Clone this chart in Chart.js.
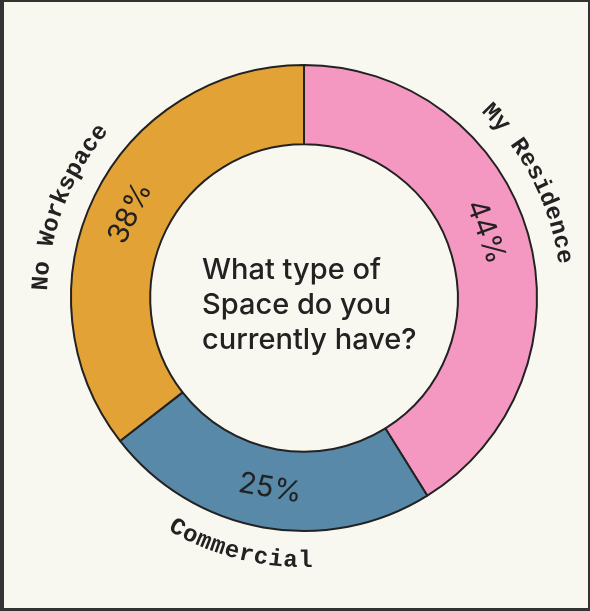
<!DOCTYPE html>
<html>
<head>
<meta charset="utf-8">
<script src="https://cdn.jsdelivr.net/npm/chart.js@4"></script>
<style>
  html, body { margin: 0; padding: 0; background: #f8f7f0; }
  .frame {
    width: 584px; height: 606px;
    border-style: solid; border-color: #333;
    border-width: 2px 2px 3px 4px;
    background: #f8f7f0;
  }
</style>
</head>
<body>
<div class="frame"><canvas id="myChart" width="584" height="606"></canvas></div>
<script>
// data (shares don't add to 100 in the original either)
const labels = ['My Residence', 'Commercial', 'No Workspace']
const values = [44, 25, 38]
const question = ['What type of', 'Space do you', 'currently have?']

// small nudges so the text sits where the original put it (degrees)
const labelShift = [-11, 4.2, -5]
const pctShift = [-4, 0, 0]

const ringLabels = {
  id: 'ringLabels',
  afterDatasetsDraw(chart) {
    const ctx = chart.ctx
    const meta = chart.getDatasetMeta(0)
    meta.data.forEach((arc, i) => {
      const p = arc.getProps(['x', 'y', 'startAngle', 'endAngle', 'innerRadius', 'outerRadius'], true)
      const mid = (p.startAngle + p.endAngle) / 2
      const fromTop = mid + Math.PI / 2   // 0 at 12 o'clock, clockwise
      const bottomHalf = fromTop > Math.PI / 2 && fromTop < Math.PI * 1.5

      // percentage in the middle of the ring
      const r = (p.innerRadius + p.outerRadius) / 2
      const pm = mid + pctShift[i] * Math.PI / 180
      ctx.save()
      ctx.translate(p.x + r * Math.cos(pm), p.y + r * Math.sin(pm))
      ctx.rotate(bottomHalf ? pm + Math.PI / 2 - Math.PI : pm + Math.PI / 2)
      ctx.font = '400 29px Inter'
      ctx.fillStyle = '#222'
      ctx.textAlign = 'center'
      ctx.textBaseline = 'middle'
      ctx.fillText(values[i] + '%', 0, 0)
      ctx.restore()

      // name bent round the outside
      const R = p.outerRadius + 30
      const text = labels[i]
      const spacing = 0.5
      ctx.save()
      ctx.font = 'bold 24px "Liberation Mono"'
      ctx.fillStyle = '#222'
      ctx.textAlign = 'center'
      ctx.textBaseline = 'middle'
      const widths = [...text].map(c => ctx.measureText(c).width + spacing)
      const total = widths.reduce((a, b) => a + b, 0) - spacing
      const span = total / R
      const centre = mid + labelShift[i] * Math.PI / 180
      let acc = 0
      ;[...text].forEach((c, k) => {
        const off = (acc + (widths[k] - spacing) / 2) / R
        const th = bottomHalf ? centre + span / 2 - off : centre - span / 2 + off
        ctx.save()
        ctx.translate(p.x + R * Math.cos(th), p.y + R * Math.sin(th))
        ctx.rotate(bottomHalf ? th - Math.PI / 2 : th + Math.PI / 2)
        ctx.fillText(c, 0, 0)
        ctx.restore()
        acc += widths[k]
      })
      ctx.restore()
    })
  },
  afterDraw(chart) {
    const ctx = chart.ctx
    const arc = chart.getDatasetMeta(0).data[0]
    ctx.save()
    ctx.font = '500 29px Inter'
    ctx.fillStyle = '#222'
    ctx.textAlign = 'left'
    ctx.textBaseline = 'alphabetic'
    question.forEach((line, i) => {
      ctx.fillText(line, arc.x - 102, arc.y - 19.5 + i * 35)
    })
    ctx.restore()
  }
}

const ctx = document.getElementById('myChart')
new Chart(ctx, {
  type: 'doughnut',
  data: {
    labels: labels,
    datasets: [{
      data: values,
      backgroundColor: ['#f497c1', '#5889a8', '#e3a235'],
      borderColor: '#222',
      borderWidth: 2
    }]
  },
  options: {
    responsive: false,
    animation: false,
    cutout: '66%',
    layout: { padding: { left: 66, right: 50, top: 62, bottom: 76 } },
    plugins: {
      legend: { display: false },
      tooltip: { enabled: false }
    }
  },
  plugins: [ringLabels]
})
</script>
</body>
</html>
